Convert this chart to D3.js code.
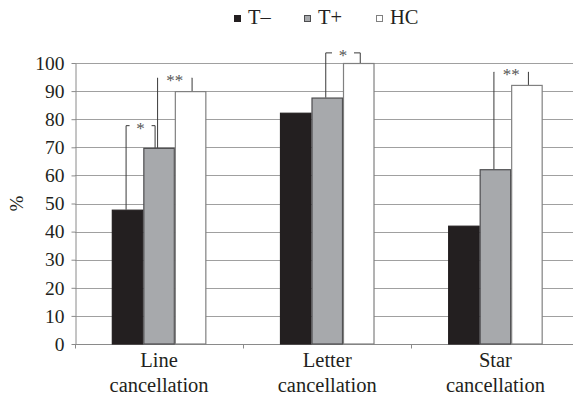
<!DOCTYPE html>
<html>
<head>
<meta charset="utf-8">
<script src="https://cdn.jsdelivr.net/npm/d3@7/dist/d3.min.js"></script>
<style>
  html, body { margin: 0; padding: 0; background: #fff; }
  svg { display: block; }
</style>
</head>
<body>
<div id="chart"></div>
<script>
// data
const categories = [["Line", "cancellation"], ["Letter", "cancellation"], ["Star", "cancellation"]];
const seriesNames = ["T\u2013", "T+", "HC"];
const tMinus = [47.8, 82.3, 42.1];
const tPlus = [69.8, 87.7, 62.2];
const hc = [90.0, 100.0, 92.2];
const yTicks = [0, 10, 20, 30, 40, 50, 60, 70, 80, 90, 100];
// significance brackets: category index, from series, to series, label, bracket level (%)
const sigCat = [0, 0, 1, 2];
const sigFrom = [0, 1, 1, 1];
const sigTo = [1, 2, 2, 2];
const sigLabel = ["*", "**", "*", "**"];
const sigLevel = [77.7, 94.7, 103.6, 96.8];

const colors = ["#231f20", "#a7a9ac", "#ffffff"];
const strokes = ["#231f20", "#4d4d4f", "#808080"];

const width = 573, height = 397;
const margin = { top: 63, left: 75, bottom: 53, right: -6.5 };
const font = "Liberation Serif";

const svg = d3.select("#chart").append("svg")
  .attr("width", width)
  .attr("height", height);

const x0 = d3.scaleBand()
  .domain(d3.range(categories.length))
  .range([margin.left, width - margin.right])
  .paddingInner(0).paddingOuter(0);

const groupW = x0.bandwidth() * 0.562;
const x1 = d3.scaleBand()
  .domain(d3.range(seriesNames.length))
  .range([0, groupW]);

const y = d3.scaleLinear()
  .domain([0, 100])
  .range([height - margin.bottom, margin.top]);

// gridlines
svg.append("g")
  .selectAll("line")
  .data(yTicks.filter(d => d > 0))
  .enter().append("line")
  .attr("x1", margin.left)
  .attr("x2", width - margin.right)
  .attr("y1", d => Math.round(y(d)) + 0.5)
  .attr("y2", d => Math.round(y(d)) + 0.5)
  .attr("stroke", "#a0a0a0")
  .attr("stroke-width", 1.2);

// y axis
const yAxis = svg.append("g")
  .attr("transform", `translate(${margin.left + 0.5},0)`)
  .call(d3.axisLeft(y).tickValues(yTicks).tickSize(4).tickSizeOuter(0).tickPadding(7));
yAxis.attr("font-family", font).attr("font-size", 19.5);
yAxis.select(".domain").attr("stroke", "#8a8a8a");
yAxis.selectAll(".tick line").attr("stroke", "#8a8a8a");
yAxis.selectAll("text").attr("fill", "#231f20");

// x axis
const xAxisG = svg.append("g")
  .attr("transform", `translate(0,${Math.round(y(0)) + 0.5})`);
xAxisG.append("line")
  .attr("x1", margin.left).attr("x2", width - margin.right)
  .attr("stroke", "#8a8a8a").attr("stroke-width", 1.2);
xAxisG.selectAll(".tk")
  .data(d3.range(categories.length))
  .enter().append("line")
  .attr("class", "tk")
  .attr("x1", d => Math.round(x0(d)) + 0.5)
  .attr("x2", d => Math.round(x0(d)) + 0.5)
  .attr("y1", 0).attr("y2", 4)
  .attr("stroke", "#8a8a8a");

xAxisG.selectAll(".cat")
  .data(categories)
  .enter().append("text")
  .attr("class", "cat")
  .attr("text-anchor", "middle")
  .attr("font-family", font)
  .attr("font-size", 20.5)
  .attr("fill", "#231f20")
  .each(function (d, i) {
    const t = d3.select(this);
    d.forEach((line, j) => {
      t.append("tspan")
        .attr("x", x0(i) + x0.bandwidth() / 2)
        .attr("y", 22.5 + j * 24.5)
        .text(line);
    });
  });

// bars
const series = [tMinus, tPlus, hc];
const groups = svg.append("g")
  .selectAll("g")
  .data(categories)
  .enter().append("g")
  .attr("transform", (d, i) => `translate(${x0(i) + (x0.bandwidth() - groupW) / 2},0)`);

groups.selectAll("rect")
  .data((d, i) => series.map((s, k) => ({ k: k, v: s[i] })))
  .enter().append("rect")
  .attr("x", d => x1(d.k) + 0.5)
  .attr("width", x1.bandwidth() - 1)
  .attr("y", d => y(d.v) + 0.5)
  .attr("height", d => y(0) - y(d.v) - 0.5)
  .attr("fill", d => colors[d.k])
  .attr("stroke", d => strokes[d.k])
  .attr("stroke-width", 1.2);

// significance brackets
const barCenter = (c, s) => x0(c) + (x0.bandwidth() - groupW) / 2 + x1(s) + x1.bandwidth() / 2;
const valueOf = (c, s) => series[s][c];

const sig = svg.append("g");
sigCat.forEach((c, i) => {
  let xl = barCenter(c, sigFrom[i]) - 1.5;
  let xr = barCenter(c, sigTo[i]) + 1.5;
  // shift left if another bracket starts from this bracket's end bar
  const clash = sigCat.some((c2, j) => j !== i && c2 === c && sigFrom[j] === sigTo[i]);
  if (clash) xr = barCenter(c, sigTo[i]) - 4;
  const yl = y(sigLevel[i]);
  const mid = (xl + xr) / 2;
  const gap = sigLabel[i].length * 6 + 5;
  const path = d3.path();
  path.moveTo(xl, y(valueOf(c, sigFrom[i])));
  path.lineTo(xl, yl);
  path.lineTo(mid - gap, yl);
  path.moveTo(mid + gap, yl);
  path.lineTo(xr, yl);
  path.lineTo(xr, y(valueOf(c, sigTo[i])));
  sig.append("path")
    .attr("d", path.toString())
    .attr("fill", "none")
    .attr("stroke", "#3a3a3a")
    .attr("stroke-width", 1);
  sig.append("text")
    .attr("x", mid)
    .attr("y", yl + 8)
    .attr("text-anchor", "middle")
    .attr("font-family", font)
    .attr("font-size", 17)
    .attr("fill", "#555")
    .text(sigLabel[i]);
});

// y label
svg.append("text")
  .attr("transform", `translate(23,${y(50)}) rotate(-90)`)
  .attr("text-anchor", "middle")
  .attr("font-family", font)
  .attr("font-size", 19)
  .attr("fill", "#231f20")
  .text("%");

// legend
const legendX = [234, 304, 376];
const legend = svg.append("g")
  .selectAll("g")
  .data(seriesNames)
  .enter().append("g")
  .attr("transform", (d, i) => `translate(${legendX[i]},15)`);
legend.append("rect")
  .attr("x", 0.5).attr("y", 0.5)
  .attr("width", 6).attr("height", 6)
  .attr("fill", (d, i) => colors[i])
  .attr("stroke", (d, i) => strokes[i]);
legend.append("text")
  .attr("x", 14)
  .attr("y", 8.5)
  .attr("font-family", font)
  .attr("font-size", 20.5)
  .attr("fill", "#231f20")
  .text(d => d);
</script>
</body>
</html>
